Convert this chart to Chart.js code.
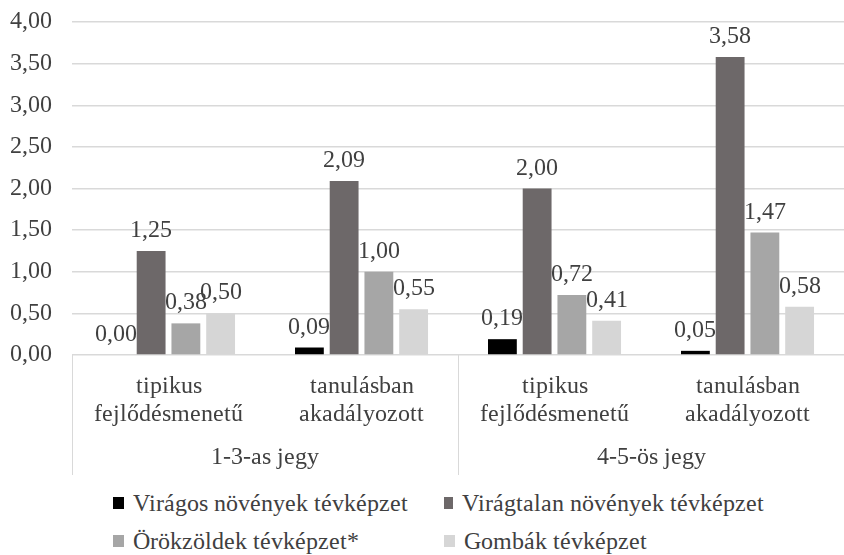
<!DOCTYPE html>
<html>
<head>
<meta charset="utf-8">
<script src="https://cdn.jsdelivr.net/npm/chart.js@4"></script>
<style>
  @font-face { font-family: "ChartSerif"; src: local("Liberation Serif"), local("LiberationSerif"), local("LiberationSerif-Regular"); }
  body { margin: 0; background: #fff; }
  #wrap { position: relative; width: 844px; height: 480px; }
  #legend {
    display: grid;
    grid-template-columns: 331px 320px;
    grid-auto-rows: 38px;
    padding: 4px 0 0 113px;
    font-size: 24px;
    color: #404040;
  }
  #legend div { display: flex; align-items: center; white-space: nowrap; font-family: "ChartSerif", "Liberation Serif", serif; }
  #legend span { display: inline-block; width: 11px; height: 12px; margin-right: 9px; }
</style>
</head>
<body>
<div id="wrap"><canvas id="barChart"></canvas></div>
<div id="legend"></div>
<script>
const categories = [
  ["tipikus", "fejlődésmenetű"],
  ["tanulásban", "akadályozott"],
  ["tipikus", "fejlődésmenetű"],
  ["tanulásban", "akadályozott"],
];
const groups = ["1-3-as jegy", "4-5-ös jegy"];
const seriesNames = [
  "Virágos növények tévképzet",
  "Virágtalan növények tévképzet",
  "Örökzöldek tévképzet*",
  "Gombák tévképzet",
];
const viragos = [0.0, 0.09, 0.19, 0.05];
const viragtalan = [1.25, 2.09, 2.0, 3.58];
const orokzoldek = [0.38, 1.0, 0.72, 1.47];
const gombak = [0.5, 0.55, 0.41, 0.58];
const yTicks = { min: 0, max: 4, step: 0.5 };

const colors = ["#000000", "#6d6869", "#a6a6a6", "#d6d6d6"];
const textColor = "#404040";
const lineColor = "#d9d9d9";
const serif = "ChartSerif, 'Liberation Serif', serif";
const font = { family: serif, size: 24, lineHeight: 1.15 };

Chart.defaults.font.family = serif;

const fmt = (v) => v.toFixed(2).replace(".", ",");

// value labels above each bar
const valueLabels = {
  id: "valueLabels",
  afterDatasetsDraw(chart) {
    const ctx = chart.ctx;
    ctx.save();
    ctx.font = `${font.size}px ${serif}`;
    ctx.fillStyle = textColor;
    ctx.textAlign = "center";
    ctx.textBaseline = "alphabetic";
    chart.data.datasets.forEach((ds, i) => {
      chart.getDatasetMeta(i).data.forEach((bar, j) => {
        ctx.fillText(fmt(ds.data[j]), bar.x, bar.y - 14);
      });
    });
    ctx.restore();
  },
};

const allSeries = [viragos, viragtalan, orokzoldek, gombak];

const chart = new Chart(document.getElementById("barChart"), {
  type: "bar",
  data: {
    labels: categories,
    datasets: allSeries.map((d, i) => ({
      label: seriesNames[i],
      data: d,
      backgroundColor: colors[i],
      categoryPercentage: 0.72,
      barPercentage: 0.83,
    })),
  },
  options: {
    responsive: true,
    maintainAspectRatio: false,
    animation: false,
    layout: { padding: { top: 22, left: 10, right: -7, bottom: 5 } },
    plugins: { legend: { display: false }, tooltip: { enabled: false } },
    scales: {
      y: {
        min: yTicks.min,
        max: yTicks.max,
        ticks: {
          stepSize: yTicks.step,
          padding: 0,
          crossAlign: "far",
          color: textColor,
          font: font,
          callback: (v) => fmt(v),
        },
        grid: { color: lineColor, lineWidth: 1.5, drawTicks: false },
        border: { display: false },
        afterFit: (s) => { s.width = 62; },
      },
      x: {
        weight: 0,
        offset: true,
        ticks: { color: textColor, font: font, padding: -55 },
        grid: {
          offset: true,
          drawOnChartArea: false,
          tickLength: 73,
          color: (c) => (c.index === undefined || c.index % 2 === 0 ? lineColor : "rgba(0,0,0,0)"),
        },
        border: { display: false },
        afterFit: (s) => { s.height = 73; },
      },
      x2: {
        type: "category",
        position: "bottom",
        weight: 1,
        labels: groups,
        offset: true,
        ticks: { color: textColor, font: font, padding: -31 },
        grid: { offset: true, drawOnChartArea: false, tickLength: 47, color: lineColor },
        border: { display: false },
        afterFit: (s) => { s.height = 47; },
      },
    },
  },
  plugins: [valueLabels],
});

// redraw once the serif face is ready
document.fonts.load("24px ChartSerif").then(() => chart.update());

// legend in two aligned columns
document.getElementById("legend").innerHTML = seriesNames
  .map((n, i) => `<div><span style="background:${colors[i]}"></span>${n}</div>`)
  .join("");
</script>
</body>
</html>
